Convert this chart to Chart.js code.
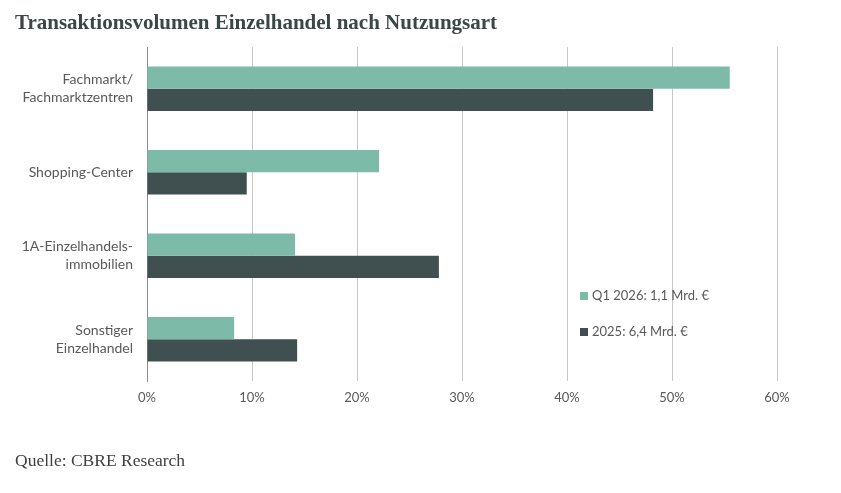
<!DOCTYPE html>
<html>
<head>
<meta charset="utf-8">
<script src="https://cdn.jsdelivr.net/npm/chart.js@4.4.1/dist/chart.umd.min.js"></script>
<style>
  html, body { margin: 0; padding: 0; background: #ffffff; }
  #wrap { position: relative; width: 841px; height: 493px; overflow: hidden; }
  #title { position: absolute; left: 15px; top: 10px; font-family: "Liberation Serif", serif; font-weight: bold; font-size: 21px; color: #3b4747; white-space: nowrap; }
  #source { position: absolute; left: 15px; top: 450px; font-family: "Liberation Serif", serif; font-size: 17.5px; color: #404040; white-space: nowrap; }
  canvas { position: absolute; left: 0; top: 0; }
</style>
</head>
<body>
<div id="wrap">
  <canvas id="c" width="841" height="493"></canvas>
  <div id="title">Transaktionsvolumen Einzelhandel nach Nutzungsart</div>
  <div id="source">Quelle: CBRE Research</div>
</div>
<script>
const categories = [
  ["Fachmarkt/", "Fachmarktzentren"],
  "Shopping-Center",
  ["1A-Einzelhandels-", "immobilien"],
  ["Sonstiger", "Einzelhandel"]
];
const seriesLabels = ["Q1 2026: 1,1 Mrd. €", "2025: 6,4 Mrd. €"];
const q1_2026 = [55.5, 22.1, 14.1, 8.3];
const y2025 = [48.2, 9.5, 27.8, 14.3];
const xTicks = [0, 10, 20, 30, 40, 50, 60];

const colors = ["#7dbaa8", "#405050"];

const legendPlugin = {
  id: "customLegend",
  afterDraw(chart) {
    const ctx = chart.ctx;
    const x0 = 580, ys = [296, 332];
    ctx.save();
    ctx.font = "13px Lato";
    ctx.textBaseline = "middle";
    chart.data.datasets.forEach((ds, i) => {
      ctx.fillStyle = ds.backgroundColor;
      ctx.fillRect(x0, ys[i] - 4, 8, 8);
      ctx.fillStyle = "#595959";
      ctx.fillText(ds.label, x0 + 12, ys[i]);
    });
    ctx.restore();
  }
};

new Chart(document.getElementById("c"), {
  type: "bar",
  data: {
    labels: categories,
    datasets: [
      { label: seriesLabels[0], data: q1_2026, backgroundColor: colors[0] },
      { label: seriesLabels[1], data: y2025, backgroundColor: colors[1] }
    ]
  },
  options: {
    indexAxis: "y",
    responsive: false,
    animation: false,
    devicePixelRatio: 1,
    layout: { padding: { left: 0, right: 64, top: 47, bottom: 0 } },
    datasets: { bar: { categoryPercentage: 0.53, barPercentage: 1.0 } },
    plugins: { legend: { display: false }, tooltip: { enabled: false }, title: { display: false } },
    scales: {
      x: {
        min: 0, max: 60,
        afterBuildTicks(scale) { scale.ticks = xTicks.map(v => ({ value: v })); },
        afterFit(scale) { scale.height = 112; },
        grid: { color: "#c6c6c6", lineWidth: 1, drawTicks: false },
        border: { display: false },
        ticks: { padding: 9, color: "#595959", font: { family: "Lato", size: 13 }, callback: v => v + "%" }
      },
      y: {
        afterFit(scale) { scale.width = 147; },
        grid: { display: false, drawTicks: false },
        border: { display: true, color: "#8c8c8c", width: 1 },
        ticks: { padding: 14, color: "#595959", font: { family: "Lato", size: 14, lineHeight: 1.3 } }
      }
    }
  },
  plugins: [legendPlugin]
});
</script>
</body>
</html>
